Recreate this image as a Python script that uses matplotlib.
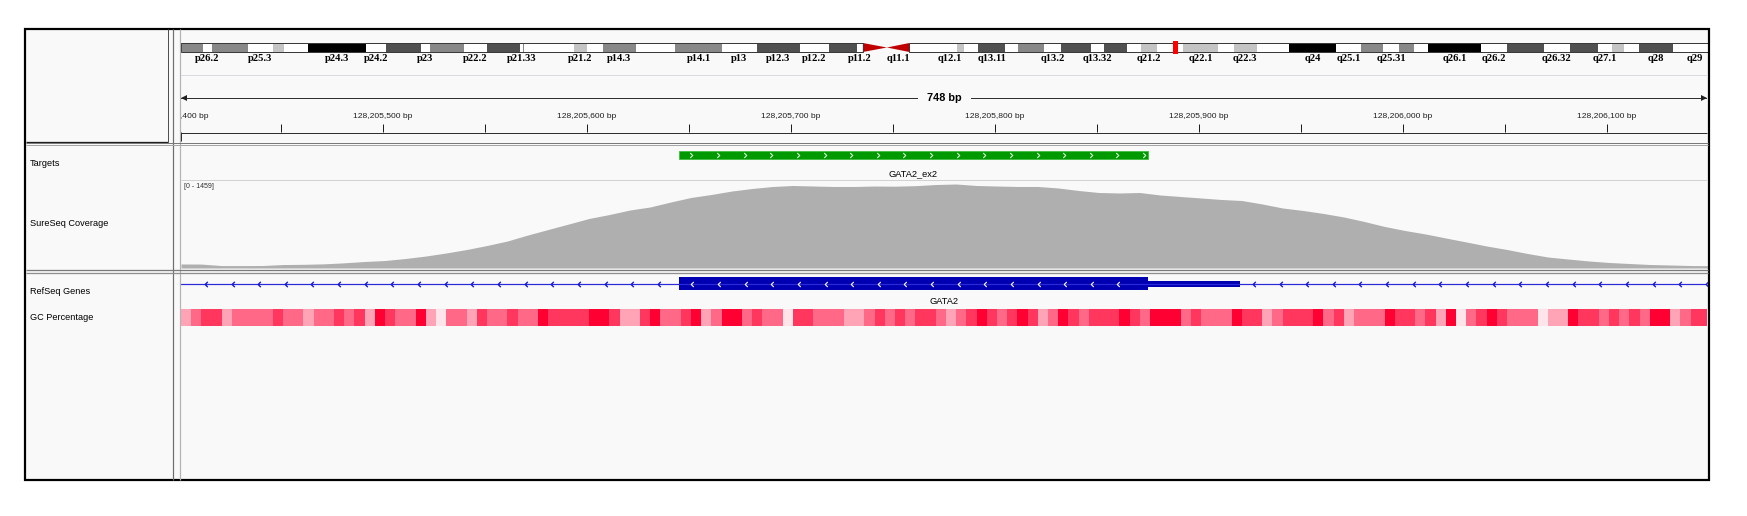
import numpy as np
import matplotlib
matplotlib.use("Agg")
import matplotlib.pyplot as plt
from matplotlib.patches import Rectangle, Polygon
from matplotlib.path import Path
from matplotlib.colors import LinearSegmentedColormap, Normalize

# ---------------- data ----------------
view_start = 128205401
view_end = 128206149
span_label = "748 bp"
major_ticks = [128205400, 128205500, 128205600, 128205700, 128205800,
               128205900, 128206000, 128206100]
major_labels = ["128,205,400 bp", "128,205,500 bp", "128,205,600 bp", "128,205,700 bp",
                "128,205,800 bp", "128,205,900 bp", "128,206,000 bp", "128,206,100 bp"]
minor_ticks = [128205450, 128205550, 128205650, 128205750, 128205850,
               128205950, 128206050]

band_names = ['p26.3', 'p26.2', 'p26.1', 'p25.3', 'p25.2', 'p25.1', 'p24.3', 'p24.2', 'p24.1',
              'p23', 'p22.3', 'p22.2', 'p22.1', 'p21.33', 'p21.32', 'p21.31', 'p21.2', 'p21.1',
              'p14.3', 'p14.2', 'p14.1', 'p13', 'p12.3', 'p12.2', 'p12.1', 'p11.2', 'p11.1',
              'q11.1', 'q11.2', 'q12.1', 'q12.2', 'q12.3', 'q13.11', 'q13.12', 'q13.13', 'q13.2',
              'q13.31', 'q13.32', 'q13.33', 'q21.1', 'q21.2', 'q21.3', 'q22.1', 'q22.2', 'q22.3',
              'q23', 'q24', 'q25.1', 'q25.2', 'q25.31', 'q25.32', 'q25.33', 'q26.1', 'q26.2',
              'q26.31', 'q26.32', 'q26.33', 'q27.1', 'q27.2', 'q27.3', 'q28', 'q29']
band_starts = [0, 2.8, 4.0, 8.7, 11.8, 13.3, 16.4, 23.9, 26.4, 30.9, 32.1, 36.5, 39.4, 43.7,
               44.1, 44.2, 50.6, 52.3, 54.4, 58.6, 63.7, 69.8, 74.2, 79.8, 83.5, 87.2, 87.9,
               91.0, 93.9, 98.3, 100.0, 100.9, 102.8, 106.2, 107.9, 111.3, 113.5, 117.3, 119.0,
               121.9, 123.8, 125.8, 129.2, 133.7, 135.7, 138.7, 142.8, 148.9, 152.1, 155.0,
               157.0, 159.0, 160.7, 167.6, 170.9, 175.7, 179.0, 182.7, 184.5, 186.0, 187.9, 192.3]
chrom_length = 198.0
band_stains = ['gpos50', 'gneg', 'gpos50', 'gneg', 'gpos25', 'gneg', 'gpos100', 'gneg', 'gpos75',
               'gneg', 'gpos50', 'gneg', 'gpos75', 'gneg', 'gpos50', 'gneg', 'gpos25', 'gneg',
               'gpos50', 'gneg', 'gpos50', 'gneg', 'gpos75', 'gneg', 'gpos75', 'gneg', 'acen',
               'acen', 'gvar', 'gneg', 'gpos25', 'gneg', 'gpos75', 'gneg', 'gpos50', 'gneg',
               'gpos75', 'gneg', 'gpos75', 'gneg', 'gpos25', 'gneg', 'gpos25', 'gneg', 'gpos25',
               'gneg', 'gpos100', 'gneg', 'gpos50', 'gneg', 'gpos50', 'gneg', 'gpos100', 'gneg',
               'gpos75', 'gneg', 'gpos75', 'gneg', 'gpos25', 'gneg', 'gpos75', 'gneg']
band_labels = ['p26.2', 'p25.3', 'p24.3', 'p24.2', 'p23', 'p22.2', 'p21.33', 'p21.2', 'p14.3',
               'p14.1', 'p13', 'p12.3', 'p12.2', 'p11.2', 'q11.1', 'q12.1', 'q13.11', 'q13.2',
               'q13.32', 'q21.2', 'q22.1', 'q22.3', 'q24', 'q25.1', 'q25.31', 'q26.1', 'q26.2',
               'q26.32', 'q27.1', 'q28', 'q29']
marker_mb = 128.2

track_names = ["Targets", "SureSeq Coverage", "RefSeq Genes", "GC Percentage"]

target_name = "GATA2_ex2"
target_start = 128205645
target_end = 128205875

gene_name = "GATA2"
exon_start = 128205645
cds_end = 128205875
exon_end = 128205920

coverage_range = 1459
coverage_step = 10
coverage_values = [70, 68, 42, 42, 43, 60, 64, 72, 90, 113,
                   130, 165, 208, 261, 321, 391, 469, 573, 669, 764,
                   860, 929, 1007, 1060, 1146, 1225, 1277, 1337, 1381, 1416,
                   1433, 1424, 1416, 1416, 1424, 1421, 1430, 1450, 1459, 1433,
                   1424, 1416, 1416, 1390, 1346, 1311, 1303, 1311, 1268, 1242,
                   1216, 1190, 1172, 1112, 1042, 999, 947, 886, 808, 721,
                   651, 591, 521, 452, 382, 321, 252, 191, 156, 122,
                   96, 78, 61, 52, 43, 40]

gc_block = 5
gc_percent = [44, 57, 68, 68, 44, 57, 57, 57, 57, 68, 57, 57, 44, 57, 57, 68, 57, 68, 44, 80,
              68, 57, 57, 80, 44, 30, 57, 57, 44, 68, 57, 57, 68, 57, 57, 80, 68, 68, 68, 68,
              80, 80, 68, 44, 44, 68, 80, 57, 57, 68, 80,
              44, 57, 80, 80, 57, 68, 57, 57, 30, 68, 68, 57, 57, 57, 44, 44, 57, 68, 57, 68,
              57, 68, 68, 57, 44, 57, 68, 80, 68, 57, 68, 80, 68, 44, 57, 80, 68, 57, 68, 68,
              68, 80, 68, 57, 80, 80, 80, 57, 68,
              57, 57, 57, 80, 68, 68, 44, 57, 68, 68, 68, 80, 57, 68, 44, 57, 57, 57, 80, 68,
              68, 57, 68, 44, 80, 30, 57, 68, 80, 68, 57, 57, 57, 30, 44, 44, 80, 68, 68, 57,
              68, 57, 68, 57, 80, 80, 44, 57, 68, 68]

# ---------------- figure ----------------
W, H, DPI = 1747, 516, 100
PX = 72.0 / DPI
SANS = "Liberation Sans"
fig = plt.figure(figsize=(W / DPI, H / DPI), dpi=DPI)
fig.patch.set_facecolor("white")


def px_axes(x0, y0, x1, y1, z=1):
    ax = fig.add_axes([x0 / W, 1 - y1 / H, (x1 - x0) / W, (y1 - y0) / H], zorder=z)
    ax.set_axis_off()
    return ax


bg = px_axes(0, 0, W, H, 0)
bg.set_xlim(0, W)
bg.set_ylim(H, 0)
bg.add_patch(Rectangle((25, 29), 1684, 451, fc="#F9F9F9", ec="none"))

# header: ruler
hdr = px_axes(181, 30, 1707, 141, 2)
hdr.set_xlim(view_start, view_end)
hdr.set_ylim(141, 30)
hdr.plot([view_start, view_end], [75, 75], color="#DADAE4", lw=1 * PX)
mid = (view_start + view_end) / 2
gap = 13
hdr.plot([view_start, mid - gap], [98, 98], color="#303030", lw=1 * PX)
hdr.plot([mid + gap, view_end], [98, 98], color="#303030", lw=1 * PX)
hdr.plot([view_start + 1.6], [98], marker="<", ms=4.2, color="#202020", mew=0)
hdr.plot([view_end - 1.6], [98], marker=">", ms=4.2, color="#202020", mew=0)
hdr.text(mid, 98, span_label, ha="center", va="center", fontsize=7.8,
         fontweight="bold", family=SANS)
for t, lab in zip(major_ticks, major_labels):
    hdr.text(t, 116, lab, ha="center", va="center", fontsize=6.1, family=SANS,
             color="#202020", clip_on=True)
hdr.vlines(major_ticks + minor_ticks, 124, 132, color="#202020", lw=1 * PX)

# ideogram
ideo = px_axes(181, 38, 1708, 66, 2)
ideo.set_xlim(0, 196.85)
ideo.set_ylim(66, 38)
stain_colors = {"gneg": "#FFFFFF", "gpos25": "#C4C4C4", "gpos50": "#888888",
                "gpos75": "#505050", "gpos100": "#000000", "gvar": "#FFFFFF"}
band_ends = band_starts[1:] + [chrom_length]
cen_lo, cen_hi = None, None
for name, s, e, st in zip(band_names, band_starts, band_ends, band_stains):
    if st == "acen":
        if name.startswith("p"):
            ideo.add_patch(Polygon([(s, 43), (s, 52), (e, 47.5)], closed=True,
                                   fc="#C00000", ec="none"))
            cen_lo = s
        else:
            ideo.add_patch(Polygon([(s, 47.5), (e, 43), (e, 52)], closed=True,
                                   fc="#C00000", ec="none"))
            cen_hi = e
    else:
        ideo.add_patch(Rectangle((s, 43), e - s, 9, fc=stain_colors[st], ec="none"))
ideo.add_patch(Rectangle((0, 43), cen_lo, 9, fill=False, ec="#3A3A3A", lw=1 * PX))
ideo.add_patch(Rectangle((cen_hi, 43), chrom_length - cen_hi, 9, fill=False,
                         ec="#3A3A3A", lw=1 * PX))
for lab in band_labels:
    i = band_names.index(lab)
    c = (band_starts[i] + band_ends[i]) / 2
    ideo.text(c, 58.5, lab, ha="center", va="center", fontsize=7.6,
              fontweight="bold", family="Liberation Serif")
ideo.add_patch(Rectangle((marker_mb - 0.26, 41), 0.55, 13, fc="#FF0000", ec="none"))

# chevron paths
right_chev = Path([(-0.5, 1), (0.5, 0), (-0.5, -1)], [Path.MOVETO, Path.LINETO, Path.LINETO])
left_chev = Path([(0.5, 1), (-0.5, 0), (0.5, -1)], [Path.MOVETO, Path.LINETO, Path.LINETO])

# targets
tgt = px_axes(181, 146, 1707, 180, 2)
tgt.set_xlim(view_start, view_end)
tgt.set_ylim(180, 146)
tgt.add_patch(Rectangle((target_start, 151), target_end - target_start, 8,
                        fc="#009A00", ec="#3DBB3D", lw=0.8 * PX))
chev_x = np.arange(target_start + 6.2, target_end - 1, 13.05)
tgt.plot(chev_x, np.full(len(chev_x), 155), ls="none", marker=right_chev, ms=3.6,
         mfc="none", mec="#D8F5D8", mew=0.8)
tgt.text((target_start + target_end) / 2, 174, target_name, ha="center", va="center",
         fontsize=6.7, family=SANS)

# coverage
cov = px_axes(181, 184, 1707, 268, 2)
cov.set_xlim(view_start, view_end)
cov.set_ylim(0, coverage_range)
cov_x = view_start + coverage_step * np.arange(len(coverage_values))
cov.fill_between(cov_x, 0, coverage_values, color="#AFAFAF", lw=0)

# genes
gene = px_axes(181, 274, 1707, 308, 2)
gene.set_xlim(view_start, view_end)
gene.set_ylim(308, 274)
gene.plot([view_start, view_end], [284, 284], color="#2A2AD8", lw=1.2 * PX)
gene.add_patch(Rectangle((exon_start, 277), cds_end - exon_start, 13, fc="#0000B2", ec="none"))
gene.add_patch(Rectangle((cds_end, 281), exon_end - cds_end, 6, fc="#0000B2", ec="none"))
ex_chev = np.arange(exon_start + 6.7, cds_end - 4, 13.05)
gene.plot(ex_chev, np.full(len(ex_chev), 283.5), ls="none", marker=left_chev, ms=3.6,
          mfc="none", mec="white", mew=0.8)
in_chev = np.concatenate([np.arange(view_start + 12.2, exon_start - 5, 13.06),
                          np.arange(exon_end + 6.9, view_end, 13.06)])
gene.plot(in_chev, np.full(len(in_chev), 284), ls="none", marker=left_chev, ms=3.8,
          mfc="none", mec="#1A1AD0", mew=1.0)
gene.text(mid, 302, gene_name, ha="center", va="center", fontsize=6.7, family=SANS)

# GC percentage
gc = px_axes(181, 309, 1707, 326, 2)
gc.set_xlim(view_start, view_end)
gc.set_ylim(0, 1)
gc_cmap = LinearSegmentedColormap.from_list("gc", ["#FFFFFF", "#FF0033"])
gc_edges = view_start + gc_block * np.arange(len(gc_percent) + 1)
gc.pcolormesh(gc_edges, [0, 1], np.array(gc_percent, dtype=float)[None, :], cmap=gc_cmap,
              norm=Normalize(24, 80), shading="flat", antialiased=False, edgecolors="none")

# name panel labels
for name, y in zip(track_names, [163, 224, 291, 318]):
    bg.text(30, y, name, ha="left", va="center", fontsize=6.6, family=SANS)
bg.text(184, 187, "[0 - %d]" % coverage_range, ha="left", va="center", fontsize=5,
        family=SANS, color="#303030")

# overlay frame lines
ov = px_axes(0, 0, W, H, 5)
ov.set_xlim(0, W)
ov.set_ylim(H, 0)


def ln(x0, x1, y0, y1, c, w):
    ov.plot([x0, x1], [y0, y1], color=c, lw=w * PX, solid_capstyle="butt")


ln(168, 168, 29, 142, "#505050", 1)
ln(26, 168, 141.5, 141.5, "#202020", 1.3)
ln(173, 173, 29, 480, "#6E6E6E", 1.2)
ln(180.5, 180.5, 29, 480, "#B4B4B4", 1.2)
ln(26, 1708, 142.5, 142.5, "#7A7A7A", 1)
ln(26, 1708, 144.5, 144.5, "#A6A6A6", 1)
ln(181, 1707, 180, 180, "#D2D2D2", 1)
ln(26, 1708, 269.5, 269.5, "#7A7A7A", 1.3)
ln(26, 1708, 272.5, 272.5, "#8E8E8E", 1.3)
ln(181, 1707, 132.5, 132.5, "#303030", 1)
ln(181.5, 181.5, 132, 141, "#303030", 1)
ov.add_patch(Rectangle((25, 29), 1684, 451, fill=False, ec="black", lw=2.2 * PX))

fig.savefig("out.png", dpi=DPI)
